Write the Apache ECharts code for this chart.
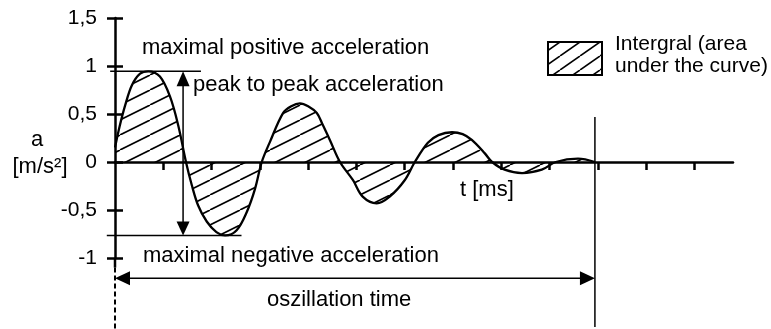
<!DOCTYPE html>
<html>
<head>
<meta charset="utf-8">
<script src="https://cdn.jsdelivr.net/npm/echarts@6/dist/echarts.min.js"></script>
<style>
  html, body { margin: 0; padding: 0; background: #fff; }
  #chart { width: 771px; height: 329px; }
</style>
</head>
<body>
<div id="chart"></div>
<script>
// t in ms (one tick = 1 ms), a in m/s²
const timeMs = [0, 0.1, 0.21, 0.35, 0.52, 0.69, 0.93, 1.14, 1.31, 1.47, 1.59, 1.72, 1.9, 2.1, 2.28, 2.52, 2.73, 2.9, 3.04, 3.21, 3.48, 3.65, 3.83, 4.0, 4.18, 4.3, 4.45, 4.66, 4.93, 5.13, 5.42, 5.69, 6.0, 6.21, 6.48, 6.7, 6.98, 7.2, 7.39, 7.66, 7.81, 8.07, 8.43, 8.84, 9.13, 9.59, 9.94];
const accel = [0.15, 0.38, 0.59, 0.8, 0.92, 0.945, 0.89, 0.68, 0.38, 0, -0.24, -0.45, -0.62, -0.73, -0.765, -0.71, -0.52, -0.28, 0, 0.21, 0.51, 0.58, 0.61, 0.58, 0.51, 0.39, 0.23, 0, -0.19, -0.36, -0.43, -0.36, -0.19, 0, 0.2, 0.28, 0.31, 0.29, 0.23, 0.09, 0, -0.08, -0.115, -0.08, 0, 0.035, 0];
const xTicks = [1, 2, 3, 4, 5, 6, 7, 8, 9, 10, 11, 12];
const yTickLabels = ['-1', '-0,5', '0', '0,5', '1', '1,5'];

const FAMILY = '"Liberation Sans", Arial, sans-serif';
const FONT = '22px ' + FAMILY;

// diagonal hatch used for the area under the curve
function hatch(w, h, lw) {
  const c = document.createElement('canvas');
  c.width = w; c.height = h;
  const ctx = c.getContext('2d');
  ctx.strokeStyle = '#000';
  ctx.lineWidth = lw;
  for (const dx of [-w, 0, w]) {
    ctx.beginPath();
    ctx.moveTo(dx, h);
    ctx.lineTo(dx + w, 0);
    ctx.stroke();
  }
  return c;
}

const chart = echarts.init(document.getElementById('chart'));

const baseX = {
  type: 'value', min: 0, max: 12.8,
  axisLabel: { show: false },
  splitLine: { show: false },
  axisTick: { customValues: xTicks, length: 8, lineStyle: { color: '#000', width: 2.5 } },
  axisLine: { onZero: true, lineStyle: { color: '#000', width: 2.5 } }
};
const baseY = {
  type: 'value', min: -1, max: 1.5, interval: 0.5,
  splitLine: { show: false },
  axisTick: { length: 8, lineStyle: { color: '#000', width: 2.5 } },
  axisLine: { lineStyle: { color: '#000', width: 2.5 } }
};

chart.setOption({
  animation: false,
  backgroundColor: '#fff',
  grid: { left: 115, right: 38, top: 18, bottom: 71, containLabel: false, outerBoundsMode: 'none' },
  xAxis: [
    Object.assign({}, baseX),
    Object.assign({}, baseX, {
      axisLine: { show: false, onZero: true },
      axisTick: Object.assign({}, baseX.axisTick, { inside: true })
    })
  ],
  yAxis: [
    Object.assign({}, baseY, {
      position: 'left',
      axisLabel: {
        color: '#000', fontSize: 21, margin: 18, fontFamily: FAMILY,
        formatter: (v) => yTickLabels[Math.round((v + 1) * 2)]
      }
    }),
    Object.assign({}, baseY, {
      position: 'left',
      axisLabel: { show: false },
      axisLine: { show: false },
      axisTick: Object.assign({}, baseY.axisTick, { inside: true })
    })
  ],
  series: [{
    type: 'line',
    data: timeMs.map((t, i) => [t, accel[i]]),
    smooth: 0.35,
    showSymbol: false,
    lineStyle: { color: '#000', width: 2.3 },
    areaStyle: { color: { image: hatch(30, 15, 1.6), repeat: 'repeat' }, opacity: 1 },
    z: 3
  }]
});

// annotations, placed from data coordinates
const px = (t, a) => chart.convertToPixel({ gridIndex: 0 }, [t, a]);
const peakA = Math.max(...accel);
const troughA = Math.min(...accel);
const endT = timeMs[timeMs.length - 1];
const arrowT = 1.41;
const oscA = -1.21;

const g = [];
function line(p1, p2, w, dash) {
  g.push({ type: 'line', z: 10, shape: { x1: p1[0], y1: p1[1], x2: p2[0], y2: p2[1] },
    style: { stroke: '#000', lineWidth: w, lineDash: dash || null } });
}
function tri(points) {
  g.push({ type: 'polygon', z: 10, shape: { points: points }, style: { fill: '#000' } });
}
function text(str, x, y, align, font) {
  g.push({ type: 'text', z: 10, style: { text: str, x: x, y: y, font: font || FONT, fill: '#000',
    textAlign: align || 'left', textVerticalAlign: 'middle' } });
}

// peak lines and peak-to-peak arrow
line(px(-0.1, peakA), px(1.78, peakA), 1.5);
line(px(-0.17, troughA), px(2.62, troughA), 1.5);
const pTop = px(arrowT, peakA), pBot = px(arrowT, troughA);
line([pTop[0], pTop[1] + 10], [pBot[0], pBot[1] - 10], 1.5);
tri([[pTop[0], pTop[1]], [pTop[0] - 6.5, pTop[1] + 15], [pTop[0] + 6.5, pTop[1] + 15]]);
tri([[pBot[0], pBot[1]], [pBot[0] - 6.5, pBot[1] - 14], [pBot[0] + 6.5, pBot[1] - 14]]);

// y axis extension below -1
line(px(0, -1), px(0, -1.1), 2.5);
line(px(0, -1.1), px(0, -1.75), 2, [5, 3]);

// end of oscillation marker
line(px(endT, 0.47), px(endT, -1.72), 1.5);

// oscillation time arrow
const oL = px(0, oscA), oR = px(endT, oscA);
line([oL[0] + 10, oL[1]], [oR[0] - 10, oR[1]], 1.5);
tri([[oL[0], oL[1]], [oL[0] + 15, oL[1] - 7], [oL[0] + 15, oL[1] + 7]]);
tri([[oR[0], oR[1]], [oR[0] - 15, oR[1] - 7], [oR[0] - 15, oR[1] + 7]]);

// labels
text('maximal positive acceleration', 142, 48);
text('peak to peak acceleration', 193, 85);
text('maximal negative acceleration', 143, 256);
text('oszillation time', 267, 300);
text('t [ms]', 460, 190);
text('a', 37, 140, 'center');
text('[m/s²]', 40, 167, 'center');

// legend
const LEGEND_FONT = '21px ' + FAMILY;
g.push({ type: 'rect', z: 10, shape: { x: 548, y: 42, width: 54, height: 33 },
  style: { fill: { image: hatch(20, 14, 1.6), repeat: 'repeat' }, stroke: '#000', lineWidth: 2 } });
text('Intergral (area', 615, 44, 'left', LEGEND_FONT);
text('under the curve)', 615, 66, 'left', LEGEND_FONT);

chart.setOption({ graphic: g });
</script>
</body>
</html>
